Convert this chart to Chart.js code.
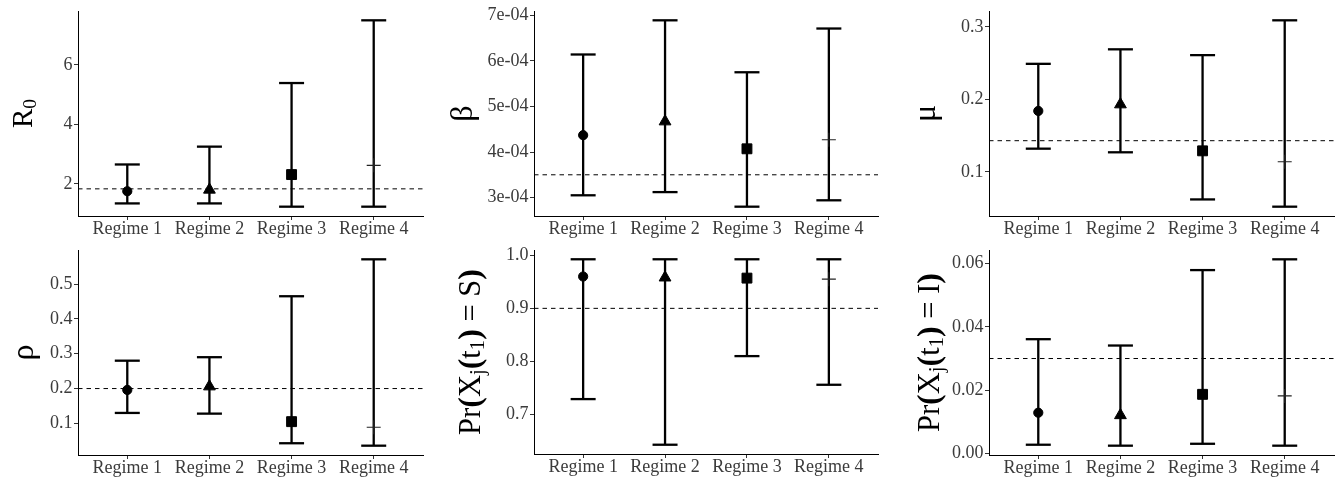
<!DOCTYPE html>
<html>
<head>
<meta charset="utf-8">
<script src="https://cdn.jsdelivr.net/npm/chart.js@4.4.1/dist/chart.umd.min.js"></script>
<style>
  html, body { margin:0; padding:0; background:#fff; }
  #wrap { position:relative; width:1340px; height:482px; overflow:hidden; background:#fff; }
  canvas { position:absolute; }
</style>
</head>
<body>
<div id="wrap">
  <canvas id="c1"></canvas><canvas id="c2"></canvas><canvas id="c3"></canvas>
  <canvas id="c4"></canvas><canvas id="c5"></canvas><canvas id="c6"></canvas>
</div>
<script>
// ---------------- data ----------------
const regimes = ['Regime 1', 'Regime 2', 'Regime 3', 'Regime 4'];
const markerStyles = ['circle', 'triangle', 'rect', 'cross'];

const r0Est = [1.75, 1.80, 2.31, 2.62];
const r0Lo  = [1.34, 1.34, 1.23, 1.23];
const r0Hi  = [2.65, 3.25, 5.39, 7.50];
const r0Ref = 1.83;
const r0Ticks = [2, 4, 6];
const r0TickLabels = ['2', '4', '6'];

const betaEst = [4.37e-4, 4.67e-4, 4.07e-4, 4.27e-4];
const betaLo  = [3.05e-4, 3.12e-4, 2.80e-4, 2.94e-4];
const betaHi  = [6.14e-4, 6.89e-4, 5.75e-4, 6.71e-4];
const betaRef = 3.5e-4;
const betaTicks = [3e-4, 4e-4, 5e-4, 6e-4, 7e-4];
const betaTickLabels = ['3e-04', '4e-04', '5e-04', '6e-04', '7e-04'];

const muEst = [0.184, 0.193, 0.129, 0.114];
const muLo  = [0.132, 0.127, 0.062, 0.052];
const muHi  = [0.249, 0.269, 0.261, 0.309];
const muRef = 0.143;
const muTicks = [0.1, 0.2, 0.3];
const muTickLabels = ['0.1', '0.2', '0.3'];

const rhoEst = [0.196, 0.206, 0.105, 0.089];
const rhoLo  = [0.130, 0.128, 0.043, 0.036];
const rhoHi  = [0.280, 0.290, 0.465, 0.571];
const rhoRef = 0.2;
const rhoTicks = [0.1, 0.2, 0.3, 0.4, 0.5];
const rhoTickLabels = ['0.1', '0.2', '0.3', '0.4', '0.5'];

const sEst = [0.960, 0.958, 0.957, 0.955];
const sLo  = [0.729, 0.643, 0.810, 0.756];
const sHi  = [0.9925, 0.9925, 0.9925, 0.9925];
const sRef = 0.9;
const sTicks = [0.7, 0.8, 0.9, 1.0];
const sTickLabels = ['0.7', '0.8', '0.9', '1.0'];

const iEst = [0.0129, 0.0121, 0.0187, 0.0182];
const iLo  = [0.0028, 0.0025, 0.0031, 0.0025];
const iHi  = [0.0361, 0.0341, 0.0579, 0.0613];
const iRef = 0.03;
const iTicks = [0, 0.02, 0.04, 0.06];
const iTickLabels = ['0.00', '0.02', '0.04', '0.06'];

// axis titles (text segments; sub = subscript, p = bracket)
const titleR0 = [{t:'R'}, {t:'0', sub:true}];
const titleBeta = [{t:'β'}];
const titleMu = [{t:'μ'}];
const titleRho = [{t:'ρ'}];
const titleS = [{t:'Pr'}, {t:'(', p:true}, {t:'X'}, {t:'j', sub:true}, {t:'(', p:true}, {t:'t'}, {t:'1', sub:true}, {t:')', p:true}, {t:' = '}, {t:'S'}, {t:')', p:true}];
const titleI = [{t:'Pr'}, {t:'(', p:true}, {t:'X'}, {t:'j', sub:true}, {t:'(', p:true}, {t:'t'}, {t:'1', sub:true}, {t:')', p:true}, {t:' = '}, {t:'I'}, {t:')', p:true}];

// ---------------- drawing ----------------
const FONT = '"Liberation Serif", "Times New Roman", serif';

const titlePlugin = {
  id: 'ytitle',
  afterDraw(chart, args, opts) {
    const {ctx, chartArea} = chart;
    const fs = opts.size;
    const fontFor = s => (s.p ? 'bold ' : '') + (s.sub ? fs * 0.68 : (s.p ? fs * 1.05 : fs)) + 'px ' + FONT;
    ctx.save();
    ctx.translate(opts.x, (chartArea.top + chartArea.bottom) / 2);
    ctx.rotate(-Math.PI / 2);
    ctx.fillStyle = '#000';
    ctx.textBaseline = 'alphabetic';
    ctx.textAlign = 'left';
    let total = 0;
    const widths = opts.segments.map(s => { ctx.font = fontFor(s); const w = ctx.measureText(s.t).width; total += w; return w; });
    let x = -total / 2;
    opts.segments.forEach((s, i) => {
      ctx.font = fontFor(s);
      ctx.fillText(s.t, x, s.sub ? fs * 0.14 : 0);
      x += widths[i];
    });
    ctx.restore();
  }
};

function makePanel(p) {
  const cv = document.getElementById(p.id);
  cv.width = p.box.w; cv.height = p.box.h;
  cv.style.left = p.box.x + 'px'; cv.style.top = p.box.y + 'px';
  cv.style.width = p.box.w + 'px'; cv.style.height = p.box.h + 'px';

  const lo = Math.min(...p.lo), hi = Math.max(...p.hi);
  const span = hi - lo;
  const yMin = lo - span * 0.05, yMax = hi + span * 0.05;

  const barData = [];
  p.lo.forEach((v, i) => {
    barData.push({x: i + 1, y: v}, {x: i + 1, y: p.hi[i]}, {x: i + 1, y: null});
  });
  const capData = [];
  p.lo.forEach((v, i) => { capData.push({x: i + 1, y: v}, {x: i + 1, y: p.hi[i]}); });
  const estData = p.est.map((v, i) => ({x: i + 1, y: v}));

  const yAxisW = p.area.l - p.box.x;
  const xAxisH = p.box.y + p.box.h - p.area.b;

  new Chart(cv, {
    type: 'scatter',
    data: {
      datasets: [
        { type: 'line', data: [{x: 0.4, y: p.ref}, {x: 4.6, y: p.ref}], borderColor: '#000', borderWidth: 1,
          borderDash: [4.5, 4], pointRadius: 0, fill: false, clip: false, order: 4 },
        { type: 'line', data: barData, borderColor: '#000', borderWidth: 2.3, pointRadius: 0, spanGaps: false,
          fill: false, borderCapStyle: 'butt', clip: false, order: 3 },
        { type: 'scatter', data: capData, pointStyle: 'line', pointRadius: 12.5, pointBorderWidth: 2.3,
          borderColor: '#000', backgroundColor: '#000', clip: false, order: 2 },
        { type: 'scatter', data: estData, pointStyle: markerStyles, pointRadius: [4.6, 6.8, 7, 7],
          pointBorderWidth: [1, 1, 1, 1.1], backgroundColor: '#000', borderColor: ['#000', '#000', '#000', '#222'],
          clip: false, order: 1 }
      ]
    },
    options: {
      responsive: false, animation: false, devicePixelRatio: 1,
      layout: { autoPadding: false, padding: { left: 0, top: p.area.t - p.box.y, right: p.box.x + p.box.w - p.area.r, bottom: 0 } },
      plugins: { legend: { display: false }, tooltip: { enabled: false },
                 ytitle: { segments: p.title, x: p.titleX - p.box.x, size: p.titleSize } },
      scales: {
        x: {
          type: 'linear', min: 0.4, max: 4.6,
          afterBuildTicks: s => { s.ticks = regimes.map((r, i) => ({value: i + 1})); },
          afterFit: s => { s.height = xAxisH; s.paddingLeft = 0; s.paddingRight = 0; },
          ticks: { autoSkip: false, maxRotation: 0, minRotation: 0, padding: 0, color: '#3b3b3b',
                   font: { family: FONT, size: 18, lineHeight: 1 },
                   callback: (v, idx) => regimes[idx] },
          grid: { display: true, drawOnChartArea: false, drawTicks: true, tickLength: 4, color: '#333', lineWidth: 1 },
          border: { display: true, color: '#000', width: 1 }
        },
        y: {
          type: 'linear', min: yMin, max: yMax,
          afterBuildTicks: s => { s.ticks = p.ticks.map(v => ({value: v})); },
          afterFit: s => { s.width = yAxisW; s.paddingTop = 0; s.paddingBottom = 0; },
          ticks: { padding: 1.5, color: '#3b3b3b', font: { family: FONT, size: 18, lineHeight: 1 },
                   callback: (v, idx) => p.tickLabels[idx] },
          grid: { display: true, drawOnChartArea: false, drawTicks: true, tickLength: 4, color: '#333', lineWidth: 1 },
          border: { display: true, color: '#000', width: 1 }
        }
      }
    },
    plugins: [titlePlugin]
  });
}

const row1 = {y: 0, h: 240}, row2 = {y: 240, h: 242};
const col1 = {x: 0, w: 447}, col2 = {x: 440, w: 453}, col3 = {x: 893, w: 447};

makePanel({ id: 'c1', box: {x: col1.x, w: col1.w, y: row1.y, h: row1.h}, area: {l: 78, r: 423, t: 11, b: 216},
  est: r0Est, lo: r0Lo, hi: r0Hi, ref: r0Ref, ticks: r0Ticks, tickLabels: r0TickLabels,
  title: titleR0, titleX: 32, titleSize: 29 });
makePanel({ id: 'c2', box: {x: col2.x, w: col2.w, y: row1.y, h: row1.h}, area: {l: 534, r: 878, t: 11, b: 216},
  est: betaEst, lo: betaLo, hi: betaHi, ref: betaRef, ticks: betaTicks, tickLabels: betaTickLabels,
  title: titleBeta, titleX: 472, titleSize: 32 });
makePanel({ id: 'c3', box: {x: col3.x, w: col3.w, y: row1.y, h: row1.h}, area: {l: 989, r: 1334, t: 11, b: 216},
  est: muEst, lo: muLo, hi: muHi, ref: muRef, ticks: muTicks, tickLabels: muTickLabels,
  title: titleMu, titleX: 935, titleSize: 32 });
makePanel({ id: 'c4', box: {x: col1.x, w: col1.w, y: row2.y, h: row2.h}, area: {l: 78, r: 423, t: 250, b: 455},
  est: rhoEst, lo: rhoLo, hi: rhoHi, ref: rhoRef, ticks: rhoTicks, tickLabels: rhoTickLabels,
  title: titleRho, titleX: 33, titleSize: 32 });
makePanel({ id: 'c5', box: {x: col2.x, w: col2.w, y: row2.y, h: row2.h}, area: {l: 534, r: 878, t: 250, b: 454},
  est: sEst, lo: sLo, hi: sHi, ref: sRef, ticks: sTicks, tickLabels: sTickLabels,
  title: titleS, titleX: 480, titleSize: 30.5 });
makePanel({ id: 'c6', box: {x: col3.x, w: col3.w, y: row2.y, h: row2.h}, area: {l: 989, r: 1334, t: 250, b: 455},
  est: iEst, lo: iLo, hi: iHi, ref: iRef, ticks: iTicks, tickLabels: iTickLabels,
  title: titleI, titleX: 939, titleSize: 30.5 });
</script>
</body>
</html>
